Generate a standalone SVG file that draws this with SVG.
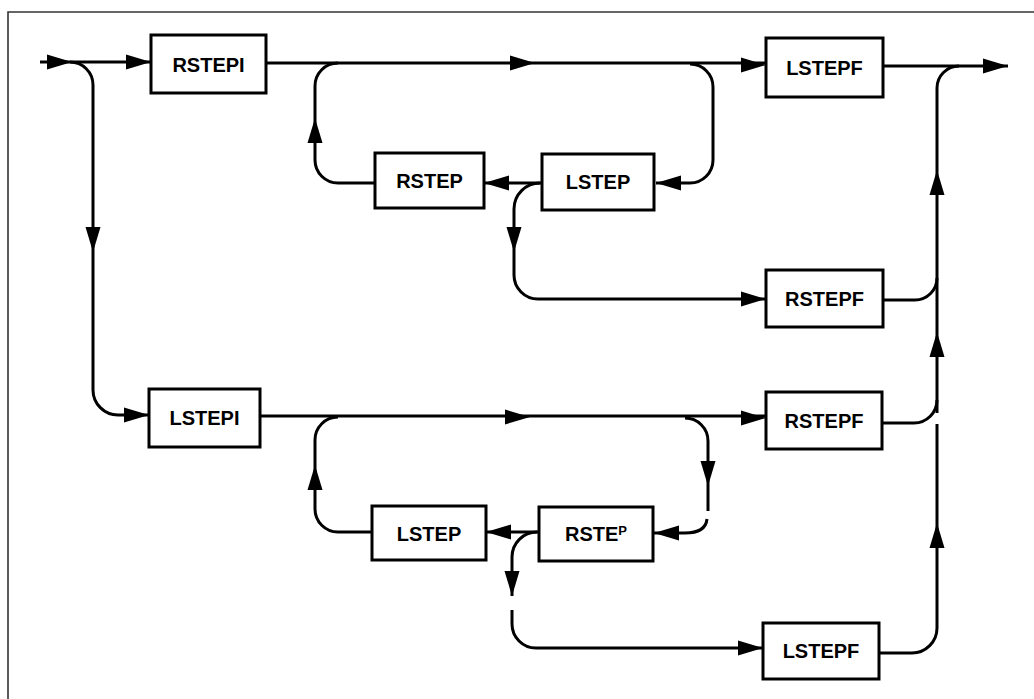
<svg xmlns="http://www.w3.org/2000/svg" xmlns:xlink="http://www.w3.org/1999/xlink" width="1034" height="699" viewBox="0 0 1034 699">
  <style>
    .frame { fill: none; stroke: #333; stroke-width: 1.6; }
    .box rect { fill: #fff; stroke: #000; stroke-width: 3; }
    .box text { font-family: "Liberation Sans", Arial, sans-serif; font-weight: bold; font-size: 20px; fill: #000; text-anchor: middle; }
    .wire { fill: none; stroke: #000; stroke-width: 3; stroke-linecap: butt; stroke-linejoin: round; }
    .head { fill: #000; }
  </style>
  <defs>
    <!-- arrowhead pointing along +x, tip at origin -->
    <path id="ah" d="M0,0 L-25,-7.5 L-25,7.5 Z"/>
  </defs>

  <rect width="1034" height="699" fill="#fff"/>
  <!-- page frame -->
  <path class="frame" d="M8,699 V12 H1034"/>

  <g id="connectors">
    <!-- entry and first branch -->
    <path class="wire" d="M40,62 H151"/>
    <path class="wire" d="M70,62 A23,23 0 0 1 93,85 V390 A25,25 0 0 0 118,415 H149"/>

    <!-- upper row -->
    <path class="wire" d="M266,63 H766"/>
    <path class="wire" d="M338,63 A23,23 0 0 0 315,86 V160 A23,23 0 0 0 338,183 H375"/>
    <path class="wire" d="M690,64 A23,23 0 0 1 713,87 V160 A23,23 0 0 1 690,183 H656"/>
    <path class="wire" d="M542,183 H484"/>
    <path class="wire" d="M540,183 A26,26 0 0 0 514,209 V275 A24,24 0 0 0 538,299 H766"/>

    <!-- exit and collector -->
    <path class="wire" d="M883,66 H1008"/>
    <path class="wire" d="M937,413 V88 A22,22 0 0 1 959,66"/>
    <path class="wire" d="M883,300 H915 A22,22 0 0 0 937,278"/>
    <path class="wire" d="M882,423 H914 A23,23 0 0 0 937,400"/>
    <path class="wire" d="M879,653 H912 A25,25 0 0 0 937,628 V424"/>

    <!-- lower row -->
    <path class="wire" d="M260,416 H766"/>
    <path class="wire" d="M338,417 A23,23 0 0 0 315,440 V509 A23,23 0 0 0 338,532 H372"/>
    <path class="wire" d="M685,418 A23,23 0 0 1 708,441 V511"/>
    <path class="wire" d="M707,519 C706,529 698,533 685,533 H653"/>
    <path class="wire" d="M539,532 H486"/>
    <path class="wire" d="M537,532 A25,25 0 0 0 512,557 V596"/>
    <path class="wire" d="M512,610 V624 A24,24 0 0 0 536,648 H763"/>

    <!-- arrowheads -->
    <use class="head" xlink:href="#ah" transform="translate(72,62)"/>
    <use class="head" xlink:href="#ah" transform="translate(151,62)"/>
    <use class="head" xlink:href="#ah" transform="translate(93,252) rotate(90)"/>
    <use class="head" xlink:href="#ah" transform="translate(149,415)"/>
    <use class="head" xlink:href="#ah" transform="translate(535,63)"/>
    <use class="head" xlink:href="#ah" transform="translate(766,65)"/>
    <use class="head" xlink:href="#ah" transform="translate(315,118) rotate(-90)"/>
    <use class="head" xlink:href="#ah" transform="translate(484,183) rotate(180)"/>
    <use class="head" xlink:href="#ah" transform="translate(656,183) rotate(180)"/>
    <use class="head" xlink:href="#ah" transform="translate(514,252) rotate(90)"/>
    <use class="head" xlink:href="#ah" transform="translate(766,299)"/>
    <use class="head" xlink:href="#ah" transform="translate(1008,66)"/>
    <use class="head" xlink:href="#ah" transform="translate(937,170) rotate(-90)"/>
    <use class="head" xlink:href="#ah" transform="translate(937,332) rotate(-90)"/>
    <use class="head" xlink:href="#ah" transform="translate(937,523) rotate(-90)"/>
    <use class="head" xlink:href="#ah" transform="translate(530,417)"/>
    <use class="head" xlink:href="#ah" transform="translate(766,418)"/>
    <use class="head" xlink:href="#ah" transform="translate(315,465) rotate(-90)"/>
    <use class="head" xlink:href="#ah" transform="translate(708,486) rotate(90)"/>
    <use class="head" xlink:href="#ah" transform="translate(486,532) rotate(180)"/>
    <use class="head" xlink:href="#ah" transform="translate(654,533) rotate(180)"/>
    <use class="head" xlink:href="#ah" transform="translate(512,596) rotate(90)"/>
    <use class="head" xlink:href="#ah" transform="translate(763,648)"/>
  </g>

  <g id="rstepi" class="box">
    <rect x="151" y="35" width="115" height="58"/>
    <text x="208.5" y="72">RSTEPI</text>
  </g>
  <g id="lstepf-top" class="box">
    <rect x="766" y="38" width="117" height="59"/>
    <text x="824.5" y="75">LSTEPF</text>
  </g>
  <g id="rstep-top" class="box">
    <rect x="375" y="153" width="109" height="55"/>
    <text x="429.5" y="188">RSTEP</text>
  </g>
  <g id="lstep-top" class="box">
    <rect x="542" y="154" width="112" height="56"/>
    <text x="598" y="189">LSTEP</text>
  </g>
  <g id="rstepf-top" class="box">
    <rect x="766" y="270" width="117" height="57"/>
    <text x="824.5" y="306">RSTEPF</text>
  </g>
  <g id="lstepi" class="box">
    <rect x="149" y="389" width="111" height="58"/>
    <text x="204.5" y="425">LSTEPI</text>
  </g>
  <g id="rstepf-bottom" class="box">
    <rect x="766" y="392" width="116" height="57"/>
    <text x="824" y="428">RSTEPF</text>
  </g>
  <g id="lstep-bottom" class="box">
    <rect x="372" y="506" width="114" height="54"/>
    <text x="429" y="541">LSTEP</text>
  </g>
  <g id="rstep-bottom" class="box">
    <rect x="539" y="507" width="114" height="54"/>
    <text x="596" y="541">RSTE<tspan font-size="13" dy="-6">P</tspan></text>
  </g>
  <g id="lstepf-bottom" class="box">
    <rect x="763" y="623" width="116" height="56"/>
    <text x="821" y="658">LSTEPF</text>
  </g>
</svg>
